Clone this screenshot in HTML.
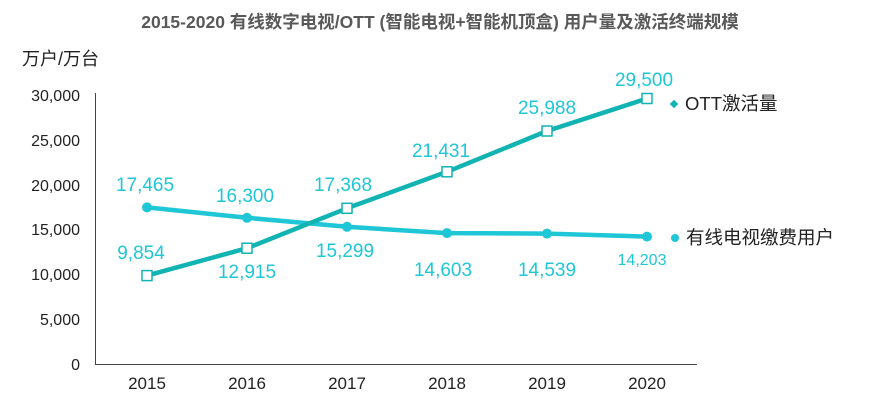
<!DOCTYPE html>
<html><head><meta charset="utf-8"><style>
html,body{margin:0;padding:0;background:#fff;}
svg{display:block;font-family:"Liberation Sans","Noto Sans CJK SC",sans-serif;}
</style></head><body>
<svg width="879" height="404" viewBox="0 0 879 404">
<text x="440" y="28" text-anchor="middle" font-size="17.5" font-weight="bold" fill="#595959">2015-2020 有线数字电视/OTT (智能电视+智能机顶盒) 用户量及激活终端规模</text>
<text x="22" y="65" font-size="18" fill="#222">万户/万台</text>
<g font-size="16" fill="#222" text-anchor="end">
<text x="80" y="101">30,000</text>
<text x="80" y="146">25,000</text>
<text x="80" y="191">20,000</text>
<text x="80" y="235">15,000</text>
<text x="80" y="280">10,000</text>
<text x="80" y="325">5,000</text>
<text x="80" y="370">0</text>
</g>
<line x1="95.5" y1="93" x2="95.5" y2="364" stroke="#444" stroke-width="1"/>
<line x1="95" y1="364.5" x2="697" y2="364.5" stroke="#444" stroke-width="1"/>
<g font-size="17" fill="#222" text-anchor="middle">
<text x="147" y="389">2015</text><text x="247" y="389">2016</text><text x="347" y="389">2017</text>
<text x="447" y="389">2018</text><text x="547" y="389">2019</text><text x="647" y="389">2020</text>
</g>
<polyline points="147,207.4 247,217.8 347,226.8 447,233.1 547,233.6 647,236.6" fill="none" stroke="#1fc6d6" stroke-width="4.5" stroke-linejoin="round"/>
<g fill="#1fc6d6">
<circle cx="147" cy="207.4" r="5"/><circle cx="247" cy="217.8" r="5"/><circle cx="347" cy="226.8" r="5"/>
<circle cx="447" cy="233.1" r="5"/><circle cx="547" cy="233.6" r="5"/><circle cx="647" cy="236.6" r="5"/>
</g>
<polyline points="147,275.6 247,248.2 347,208.3 447,171.8 547,131 647,98.5" fill="none" stroke="#12b3b3" stroke-width="4.5" stroke-linejoin="round"/>
<g fill="#fff" stroke="#12b3b3" stroke-width="1.5">
<rect x="142" y="270.6" width="10" height="10"/><rect x="242" y="243.2" width="10" height="10"/>
<rect x="342" y="203.3" width="10" height="10"/><rect x="442" y="166.8" width="10" height="10"/>
<rect x="542" y="126" width="10" height="10"/><rect x="642" y="93.5" width="10" height="10"/>
</g>
<g font-size="19" fill="#1fc6d6" text-anchor="middle">
<text x="141" y="259">9,854</text>
<text x="247" y="278">12,915</text>
<text x="343" y="191">17,368</text>
<text x="441" y="157">21,431</text>
<text x="547" y="114">25,988</text>
<text x="644" y="86">29,500</text>
<text x="145" y="191">17,465</text>
<text x="245" y="202">16,300</text>
<text x="345" y="257">15,299</text>
<text x="443" y="276">14,603</text>
<text x="547" y="276">14,539</text>
<text x="642" y="265" font-size="16">14,203</text>
</g>
<rect x="671" y="101" width="6" height="6" fill="#12b3b3" transform="rotate(45 674 104)"/>
<text x="685" y="110" font-size="18.5" fill="#222">OTT激活量</text>
<circle cx="675" cy="238" r="4" fill="#1fc6d6"/>
<text x="686" y="244" font-size="18.5" fill="#222">有线电视缴费用户</text>
</svg>
</body></html>
